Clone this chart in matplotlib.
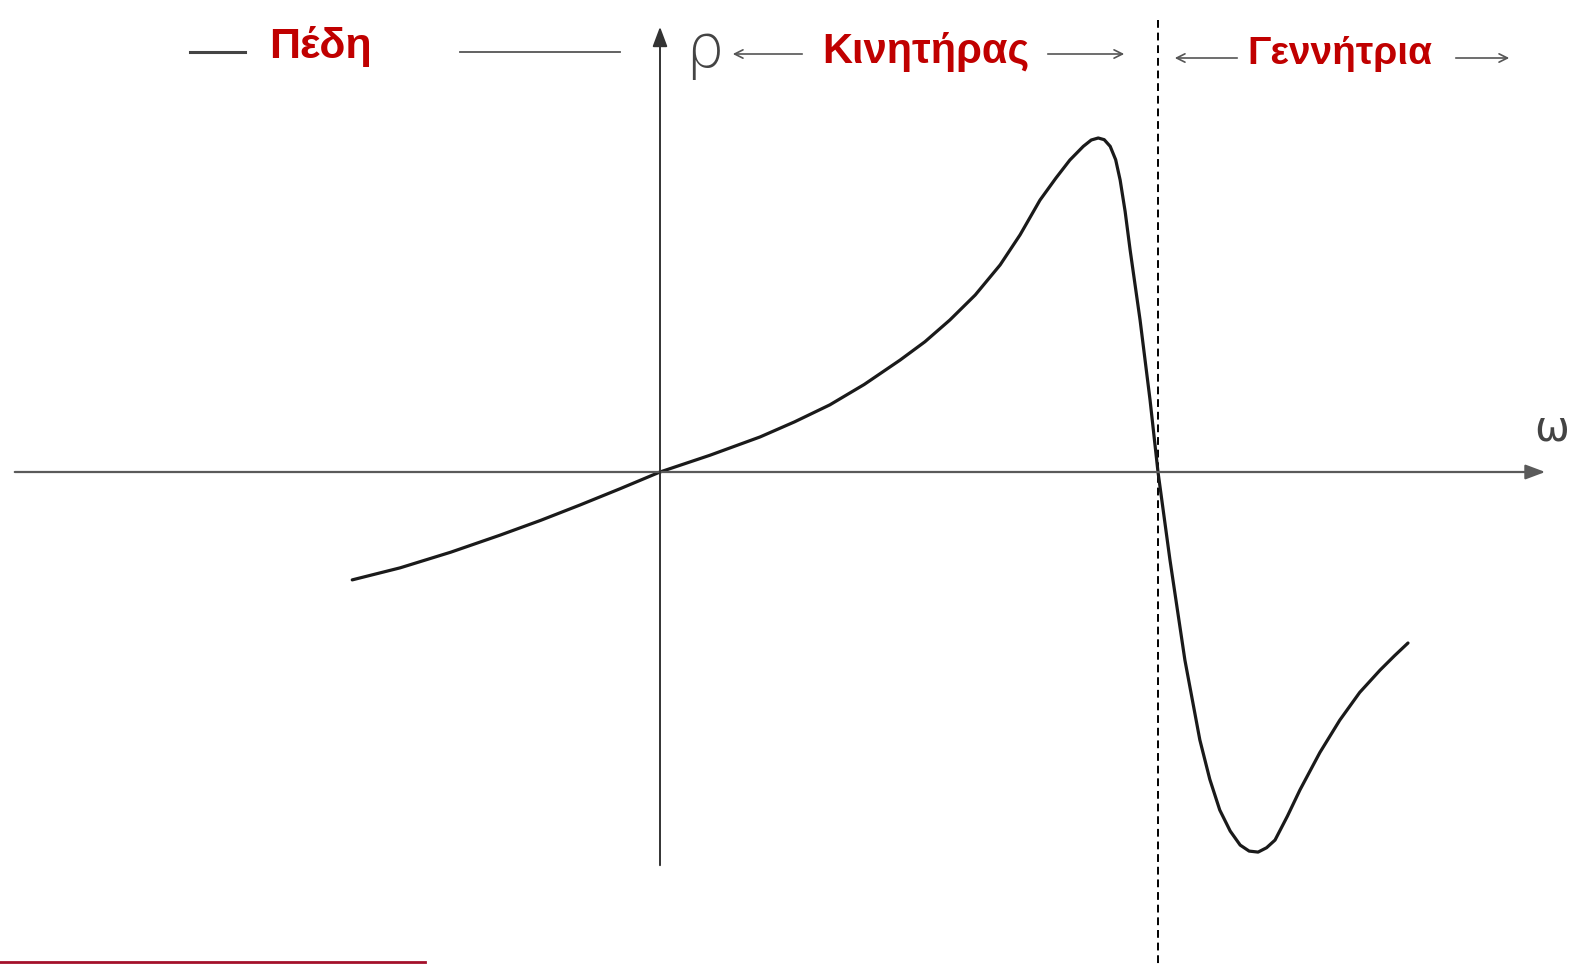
import matplotlib.pyplot as plt

# torque-speed curve of an induction machine (ω normalised to synchronous speed, T to peak torque)
omega = [-0.618, -0.522, -0.42, -0.321, -0.24, -0.161, -0.08, 0.0, 0.1, 0.201, 0.27, 0.341,
         0.41, 0.482, 0.532, 0.582, 0.633, 0.683, 0.723, 0.763, 0.795, 0.823, 0.85, 0.866, 0.88,
         0.892, 0.904, 0.915, 0.924, 0.934, 0.944, 0.964, 0.984, 1.0, 1.024, 1.054, 1.084,
         1.104, 1.124, 1.145, 1.165, 1.183, 1.201, 1.218, 1.235, 1.26, 1.285, 1.325, 1.365,
         1.405, 1.446, 1.475, 1.502]
torque = [-0.323, -0.287, -0.24, -0.189, -0.145, -0.099, -0.05, 0.0, 0.05, 0.105, 0.15, 0.201,
          0.262, 0.335, 0.39, 0.455, 0.53, 0.62, 0.71, 0.814, 0.88, 0.934, 0.975, 0.994, 1.0,
          0.995, 0.975, 0.935, 0.874, 0.78, 0.665, 0.455, 0.216, 0.0, -0.263, -0.563, -0.802,
          -0.92, -1.012, -1.075, -1.117, -1.135, -1.138, -1.125, -1.102, -1.03, -0.952, -0.84, -0.743,
          -0.66, -0.593, -0.55, -0.512]

labels = ["Πέδη", "Κινητήρας", "Γεννήτρια"]

W, H = 1579, 964
X0, Y0, SX, SY = 660, 472, 498, 334   # pixel position of origin and unit lengths


def px(x):
    return (x - X0) / SX


def py(y):
    return (Y0 - y) / SY


fig = plt.figure(figsize=(W / 100, H / 100), dpi=100)
ax = fig.add_axes([0, 0, 1, 1])
ax.set_xlim(px(0), px(W))
ax.set_ylim(py(H), py(0))
ax.axis("off")

red = "#c00000"
axcol = "#5a5a5a"

# axes with arrows
ax.annotate("", xy=(px(1548), 0), xytext=(px(12), 0),
            arrowprops=dict(arrowstyle="-|>,head_length=1.2,head_width=0.45", color=axcol, lw=1.6))
ax.annotate("", xy=(0, py(24)), xytext=(0, py(868)),
            arrowprops=dict(arrowstyle="-|>,head_length=1.2,head_width=0.45", color="#333333", lw=1.4))

# synchronous speed
ax.plot([1.0, 1.0], [py(20), py(H)], color="black", lw=1.4, ls=(0, (4, 2.5)))

# curve
ax.plot(omega, torque, color="#1a1a1a", lw=2.3, solid_capstyle="round", solid_joinstyle="round")

# axis labels
ax.text(px(704), py(50), "ρ", fontsize=44, color="#444444", ha="center", va="center",
        family="DejaVu Sans", fontweight="light")
ax.text(px(1552), py(428), "ω", fontsize=30, color="#444444", ha="center", va="center",
        family="DejaVu Sans")

# region labels
tfont = ["Liberation Sans Narrow", "Liberation Sans", "DejaVu Sans"]
ax.text(px(320), py(46), labels[0], fontsize=31, color=red, fontweight="bold",
        ha="center", va="center", family=tfont)
ax.text(px(926), py(52), labels[1], fontsize=30, color=red, fontweight="bold",
        ha="center", va="center", family=tfont)
ax.text(px(1340), py(54), labels[2], fontsize=28, color=red, fontweight="bold",
        ha="center", va="center", family=tfont)

lcol = "#555555"
ax.plot([px(190), px(245)], [py(52), py(52)], color="#444444", lw=2.2)
ax.plot([px(460), px(620)], [py(52), py(52)], color=lcol, lw=1.3)
for a, b, y in [(805, 730, 54), (1045, 1127, 54), (1240, 1172, 58), (1453, 1512, 58)]:
    ax.annotate("", xy=(px(b), py(y)), xytext=(px(a), py(y)),
                arrowprops=dict(arrowstyle="->,head_length=0.6,head_width=0.3", color=lcol, lw=1.2))

# red rule at the bottom left
ax.plot([px(0), px(425)], [py(962), py(962)], color="#a3102a", lw=2.0)

fig.savefig("out.png", dpi=100)
